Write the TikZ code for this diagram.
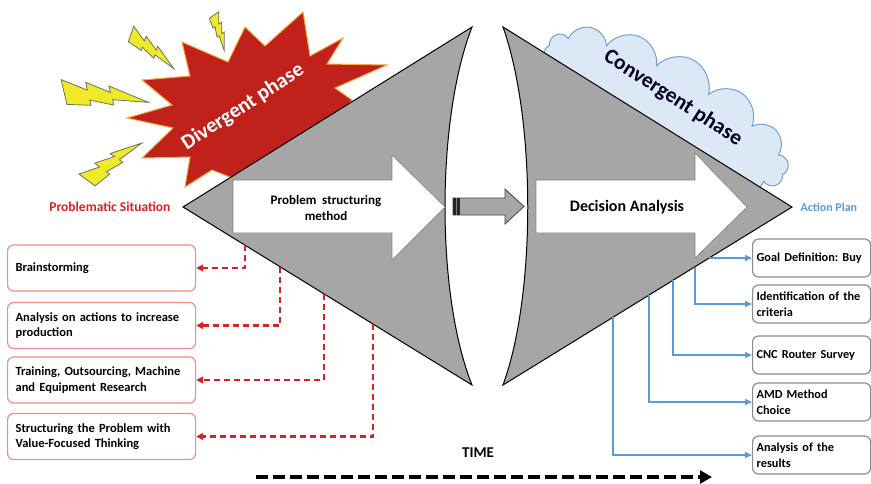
\documentclass[tikz,border=0pt]{standalone}
\usepackage{fontspec}
\setmainfont{Carlito}
\usetikzlibrary{arrows.meta,shapes.symbols}
\frenchspacing

\definecolor{shade}{RGB}{166,166,166}
\definecolor{burst}{RGB}{192,33,26}
\definecolor{burstrim}{RGB}{245,170,60}
\definecolor{boltfill}{RGB}{238,234,40}
\definecolor{boltrim}{RGB}{110,110,110}
\definecolor{sky}{RGB}{220,232,245}
\definecolor{skyrim}{RGB}{110,160,210}
\definecolor{divred}{RGB}{215,35,35}
\definecolor{boxred}{RGB}{240,140,140}
\definecolor{convblue}{RGB}{91,155,213}
\definecolor{boxgray}{RGB}{140,140,140}

\tikzset{
  phase/.style={fill=shade,draw=black,line width=1pt},
  bigarrow/.style={fill=white,draw=gray,line width=0.6pt},
  label/.style={font=\fontsize{13}{16}\selectfont\bfseries},
  biglabel/.style={font=\fontsize{16}{18}\selectfont\bfseries},
  divbox/.style={draw=boxred,line width=1.2pt,rounded corners=6pt,text width=172pt,
    inner xsep=8pt,align=left,minimum height=46pt,anchor=west,
    font=\fontsize{12.5}{15.5}\selectfont\bfseries},
  convbox/.style={draw=boxgray,line width=1.2pt,rounded corners=6pt,text width=110pt,
    inner xsep=4pt,align=left,minimum height=38pt,anchor=west,
    font=\fontsize{12.3}{15.5}\selectfont\bfseries},
  divlink/.style={draw=divred,line width=2.2pt,dash pattern=on 6pt off 4pt,
    -{Triangle[length=7pt,width=7pt]}},
  convlink/.style={draw=convblue,line width=1.6pt,-{Triangle[length=7pt,width=6pt]}},
  timeline/.style={line width=3.5pt,dash pattern=on 12pt off 5pt,
    -{Triangle[length=12pt,width=13pt]}},
  pics/bolt/.style={code={
    \filldraw[fill=boltfill,draw=boltrim,line width=0.8pt]
      (0.051,0.171) -- (-0.051,-0.171) -- (0.269,-0.068) -- (0.241,-0.175)
      -- (0.543,-0.074) -- (0.516,-0.163) -- (1,0) -- (0.579,0.024)
      -- (0.599,0.098) -- (0.311,0.071) -- (0.336,0.141) -- cycle;
  }}
}

\begin{document}
\begin{tikzpicture}[x=1pt,y=-1pt]
\useasboundingbox (0,0) rectangle (871,483);
% Wolke der konvergenten Phase
\node[cloud,cloud puffs=14,cloud ignores aspect,minimum width=272pt,minimum height=114pt,
  fill=sky,draw=skyrim,line width=1pt,rotate=-29] (cloud) at (666,110) {};
% Explosionsstern und Blitze
\filldraw[fill=burst,draw=burstrim,line width=1pt]
  (127,118) -- (172,105) -- (142,80) -- (190,76) -- (182,42) -- (228,62)
  -- (245,27) -- (265,46) -- (303,12) -- (310,56) -- (343,38) -- (327,64)
  -- (387,65) -- (335,88) -- (352,100) -- (320,140) -- (250,185) -- (212,170)
  -- (185,187) -- (190,157) -- (142,158) -- (173,128) -- cycle;
\pic[rotate=-39,xscale=55,yscale=45] at (131,34) {bolt};
\pic[rotate=-74,xscale=37,yscale=32] at (214,15) {bolt};
\pic[rotate=-7,xscale=85,yscale=70] at (64,92) {bolt};
\pic[rotate=34,xscale=66,yscale=55] at (87,180) {bolt};
\node[rotate=33,text=white,font=\fontsize{21}{24}\selectfont\bfseries] (divtext)
  at (243,107) {Divergent phase};
\node[rotate=-32.7,text={black!85!blue},font=\fontsize{21.5}{24}\selectfont\bfseries] (convtext)
  at (673,98) {Convergent phase};
% die beiden Phasen
\draw[phase] (183,207) -- (472,27) .. controls (436,120) and (436,295) .. (472,385) -- cycle;
\draw[phase] (503,27) .. controls (536,120) and (536,295) .. (503,385) -- (792,207) -- cycle;
% Pfeile in den Phasen
\draw[bigarrow] (233,180) -- (392,180) -- (392,155) -- (445,207) -- (392,260)
  -- (392,233) -- (233,233) -- cycle;
\draw[bigarrow] (536,180) -- (695,180) -- (695,153) -- (747,207) -- (695,258)
  -- (695,233) -- (536,233) -- cycle;
\draw[fill=shade,draw=black!75,line width=0.8pt] (453,198) -- (505,198) -- (505,189)
  -- (524,206.5) -- (505,224) -- (505,215) -- (453,215) -- cycle;
\fill[black!85] (453,198) rectangle (460,215);
\draw[gray,line width=0.8pt] (456.5,198) -- (456.5,215);
% Beschriftungen
\node[label,font=\fontsize{13.5}{16}\selectfont\bfseries,text=divred,anchor=east] (sit)
  at (174,207) {Problematic Situation};
\node[label,font=\fontsize{12}{15}\selectfont\bfseries,text=convblue,anchor=west] (plan)
  at (797,207) {Action Plan};
\node[label,align=center] (psm) at (326,208) {Problem\ \ structuring\\method};
\node[biglabel] (da) at (627,207) {Decision Analysis};
\node[label,font=\fontsize{15}{17}\selectfont\bfseries] (time) at (478,453) {TIME};
% Kaesten links
\node[divbox] (brain) at (7,268) {Brainstorming};
\node[divbox] (actions) at (7,325.5) {Analysis on actions to increase\\production};
\node[divbox] (training) at (7,380) {Training, Outsourcing, Machine\\and Equipment Research};
\node[divbox] (vft) at (7,436.5) {Structuring the Problem with\\Value-Focused Thinking};
% Kaesten rechts
\node[convbox] (goal) at (752,258) {Goal Definition: Buy};
\node[convbox] (criteria) at (752,304) {Identification of the\\criteria};
\node[convbox] (survey) at (752,355) {CNC Router Survey};
\node[convbox] (amd) at (752,402) {AMD Method\\Choice};
\node[convbox] (results) at (752,455) {Analysis of the\\results};
% Abzweigungen an den Kanten
\coordinate (d1) at (245,245.2);
\coordinate (d2) at (280,266.7);
\coordinate (d3) at (324,293.9);
\coordinate (d4) at (373,324.0);
\coordinate (c1) at (709,258);
\coordinate (c2) at (695,266.7);
\coordinate (c3) at (673,280.3);
\coordinate (c4) at (649,295.1);
\coordinate (c5) at (613,317.2);
\draw[divlink] (d1) |- (brain);
\draw[divlink] (d2) |- (actions);
\draw[divlink] (d3) |- (training);
\draw[divlink] (d4) |- (vft);
\draw[convlink] (c1) -- (goal);
\draw[convlink] (c2) |- (criteria);
\draw[convlink] (c3) |- (survey);
\draw[convlink] (c4) |- (amd);
\draw[convlink] (c5) |- (results);
% Zeitachse
\coordinate (tstart) at (256,477);
\coordinate (tend) at (712,477);
\draw[timeline] (tstart) -- (tend);
\end{tikzpicture}
\end{document}
